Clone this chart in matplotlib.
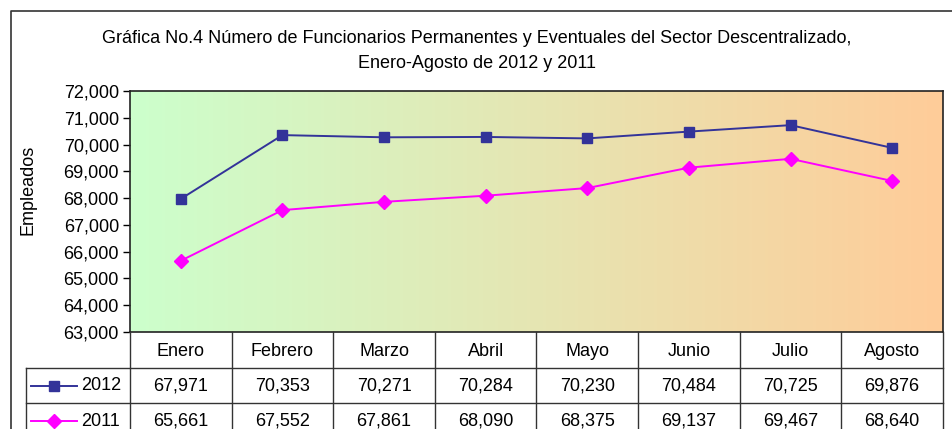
import matplotlib
matplotlib.use("Agg")
import matplotlib.pyplot as plt
import numpy as np
from matplotlib.colors import LinearSegmentedColormap

months = ["Enero", "Febrero", "Marzo", "Abril", "Mayo", "Junio", "Julio", "Agosto"]
v2012 = [67971, 70353, 70271, 70284, 70230, 70484, 70725, 69876]
v2011 = [65661, 67552, 67861, 68090, 68375, 69137, 69467, 68640]
series_names = ["2012", "2011"]
yticks = list(range(63000, 72001, 1000))

plt.rcParams['font.family'] = ['Liberation Sans', 'DejaVu Sans']

W, H = 953, 429
FS = 13
fig = plt.figure(figsize=(W / 100, H / 100), dpi=100)

def px(x0, y0, x1, y1):
    return [x0 / W, 1 - y1 / H, (x1 - x0) / W, (y1 - y0) / H]

# chart-area border
bg = fig.add_axes([0, 0, 1, 1])
bg.set_xlim(0, W); bg.set_ylim(H, 0); bg.axis('off')
bg.plot([11, 11, W + 5], [H + 5, 11, 11], color='#333333', lw=1.2, clip_on=False)

title = ("Gráfica No.4 Número de Funcionarios Permanentes y Eventuales del Sector Descentralizado,\n"
         "Enero-Agosto de 2012 y 2011")
bg.text(477, 51, title, ha='center', va='center', fontsize=FS, linespacing=1.6, color='black')
bg.text(28, 190, "Empleados", rotation=90, ha='center', va='center', fontsize=FS)

# plot area
ax = fig.add_axes(px(130, 91, 943, 332))
cmap = LinearSegmentedColormap.from_list('g', ['#CCFFCC', '#FFCC99'])
grad = np.linspace(0, 1, 256).reshape(1, -1)
ax.imshow(grad, aspect='auto', cmap=cmap, extent=[-0.5, 7.5, 63000, 72000], zorder=0)
x = np.arange(len(months))
ax.plot(x, v2012, color='#333399', lw=1.4, marker='s', ms=7.5, mfc='#333399', mec='#333399', zorder=3)
ax.plot(x, v2011, color='#FF00FF', lw=1.4, marker='D', ms=7.5, mfc='#FF00FF', mec='#FF00FF', zorder=3)
ax.set_xlim(-0.5, 7.5)
ax.set_ylim(63000, 72000)
ax.set_yticks(yticks)
ax.set_yticklabels([f"{t:,}" for t in yticks], fontsize=FS)
ax.set_xticks([])
ax.tick_params(axis='y', length=5, width=1, direction='out', pad=3)
for s in ax.spines.values():
    s.set_color('#222222'); s.set_linewidth(1.2)

# data table
cw = 813 / 8.0
left = -0.5 + (26 - 130) / cw
tx = fig.add_axes(px(26, 332, 943, 429))
tx.set_xlim(left, 7.5)
tx.set_ylim(429, 332)
tx.axis('off')
lc = '#333333'
for i in range(len(months) + 1):
    tx.plot([i - 0.5, i - 0.5], [332, 440], color=lc, lw=1, clip_on=False)
tx.plot([left, left], [368, 440], color=lc, lw=1, clip_on=False)
for yy in (368, 403):
    tx.plot([left, 7.5], [yy, yy], color=lc, lw=1, clip_on=False)
for i, m in enumerate(months):
    tx.text(i, 351, m, ha='center', va='center', fontsize=FS)
    tx.text(i, 386, f"{v2012[i]:,}", ha='center', va='center', fontsize=FS)
    tx.text(i, 421, f"{v2011[i]:,}", ha='center', va='center', fontsize=FS)
# legend keys
kx0 = -0.5 + (31 - 130) / cw
kx1 = -0.5 + (77 - 130) / cw
kxm = (kx0 + kx1) / 2
tx.plot([kx0, kx1], [386, 386], color='#333399', lw=1.4, clip_on=False)
tx.plot([kxm], [386], marker='s', ms=7.5, color='#333399', clip_on=False)
tx.plot([kx0, kx1], [421, 421], color='#FF00FF', lw=1.4, clip_on=False)
tx.plot([kxm], [421], marker='D', ms=7.5, color='#FF00FF', clip_on=False)
tx.text(-0.5 + (81 - 130) / cw, 386, series_names[0], ha='left', va='center', fontsize=FS)
tx.text(-0.5 + (81 - 130) / cw, 421, series_names[1], ha='left', va='center', fontsize=FS)

fig.savefig("out.png", dpi=100)
